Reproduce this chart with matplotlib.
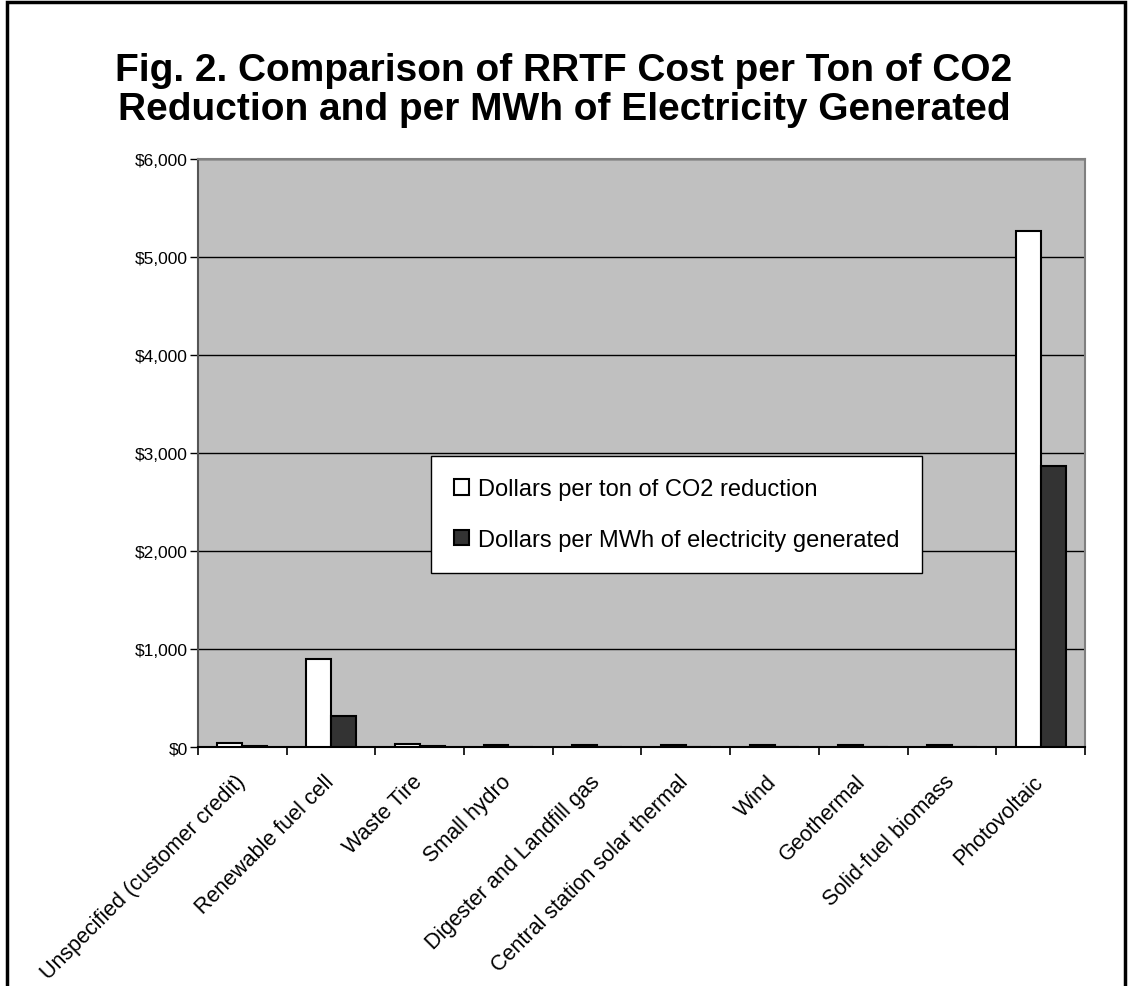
import numpy as np
import matplotlib.pyplot as plt
from matplotlib.patches import Rectangle
from matplotlib.ticker import FuncFormatter
from matplotlib.transforms import ScaledTranslation

plt.rcParams['font.family'] = ['Liberation Sans', 'DejaVu Sans']

categories = ['Unspecified (customer credit)', 'Renewable fuel cell', 'Waste Tire',
              'Small hydro', 'Digester and Landfill gas', 'Central station solar thermal',
              'Wind', 'Geothermal', 'Solid-fuel biomass', 'Photovoltaic']
per_ton_co2 = [40, 900, 35, 20, 20, 20, 20, 20, 20, 5265]
per_mwh = [15, 320, 15, 0, 0, 0, 0, 0, 0, 2865]

fig = plt.figure(figsize=(11.28, 9.87), dpi=100)
ax = fig.add_axes([0.1755, 0.2421, 0.7864, 0.5958])

x = np.arange(len(categories))
w = 0.28
ax.bar(x - w / 2, per_ton_co2, w, color='white', edgecolor='black', linewidth=1.5,
       label='Dollars per ton of CO2 reduction', zorder=3)
ax.bar(x + w / 2, per_mwh, w, color='#333333', edgecolor='black', linewidth=1.5,
       label='Dollars per MWh of electricity generated', zorder=3)

ax.set_facecolor('#c0c0c0')
ax.set_xlim(-0.5, len(categories) - 0.5)
ax.set_ylim(0, 6000)
ax.set_yticks(np.arange(0, 6001, 1000))
ax.yaxis.set_major_formatter(FuncFormatter(lambda v, p: '${:,.0f}'.format(v)))
ax.grid(axis='y', color='black', linewidth=1, zorder=1)
ax.set_axisbelow(True)

# category boundaries get the tick marks, centres get the labels
ax.set_xticks(np.arange(len(categories) + 1) - 0.5, minor=False)
ax.set_xticklabels([])
ax.set_xticks(x, minor=True)
ax.set_xticklabels(categories, minor=True, rotation=45, ha='right',
                   rotation_mode='anchor', fontsize=15.5)
ax.tick_params(axis='x', which='minor', length=0, pad=17)
ax.tick_params(axis='x', which='major', length=6, width=1.2, direction='out')
ax.tick_params(axis='y', length=6, width=1, labelsize=12.5, pad=1.5)
shift = ScaledTranslation(-8 / 100, 0, fig.dpi_scale_trans)
for lbl in ax.get_xticklabels(minor=True):
    lbl.set_transform(lbl.get_transform() + shift)

for s in ['top', 'right']:
    ax.spines[s].set_color('#808080')
    ax.spines[s].set_linewidth(1.5)
ax.spines['left'].set_color('#555555')
ax.spines['left'].set_linewidth(1.5)
ax.spines['bottom'].set_color('black')
ax.spines['bottom'].set_linewidth(1.5)

leg = ax.legend(loc='upper left', bbox_to_anchor=(0.263, 0.495), fontsize=17,
                frameon=True, fancybox=False, edgecolor='black', framealpha=1,
                handlelength=0.65, handleheight=0.65, handletextpad=0.4,
                labelspacing=1.2, borderpad=0.95, borderaxespad=0)
leg.get_frame().set_linewidth(1)
leg.set_zorder(5)

fig.text(0.50, 0.908, 'Fig. 2. Comparison of RRTF Cost per Ton of CO2\nReduction and per MWh of Electricity Generated',
         ha='center', va='center', fontsize=28, fontweight='bold', linespacing=1.12)

fig.patches.append(Rectangle((0.006, -0.05), 0.991, 1.047, transform=fig.transFigure,
                             fill=False, edgecolor='black', linewidth=2.5))

fig.savefig('out.png', dpi=100)
